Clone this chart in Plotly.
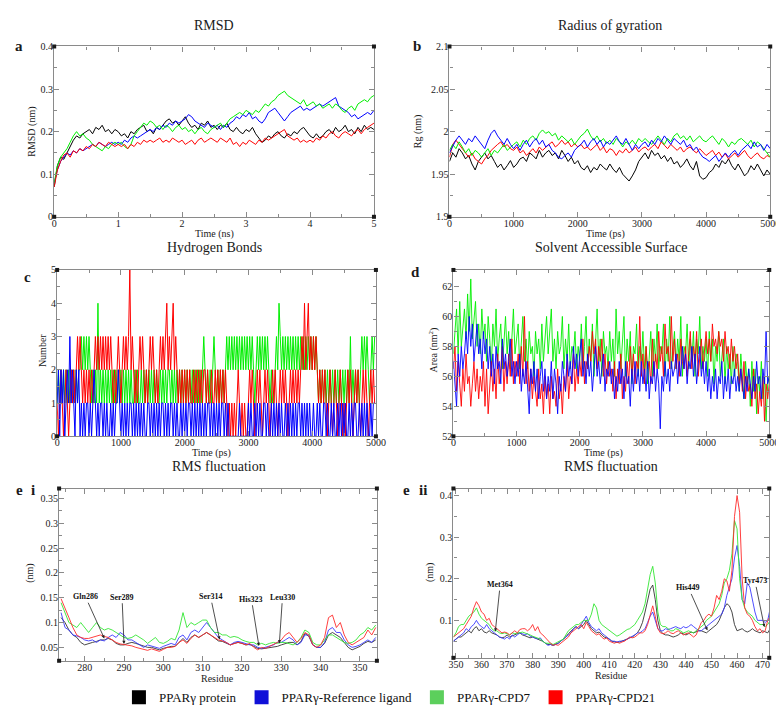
import numpy as np
import plotly.graph_objects as go

W, H = 784, 707

# ---------------- data ----------------
# (a) RMSD (nm), 0-5 ns every 0.05 ns
rmsd_protein = [0.07, 0.12, 0.14, 0.135, 0.15, 0.165, 0.18, 0.19, 0.185, 0.195, 0.2, 0.205, 0.195, 0.21, 0.205, 0.215, 0.2, 0.205, 0.195, 0.205, 0.2,
                0.19, 0.195, 0.185, 0.2, 0.195, 0.205, 0.21, 0.215, 0.2, 0.205,
                0.195, 0.21, 0.205, 0.215, 0.225, 0.23, 0.22, 0.225, 0.215, 0.225,
                0.235, 0.22, 0.21, 0.215, 0.205, 0.22, 0.215, 0.225, 0.21, 0.215,
                0.205, 0.215, 0.21, 0.22, 0.205, 0.2, 0.21, 0.2, 0.195, 0.205,
                0.2, 0.21, 0.195, 0.185, 0.175, 0.18, 0.19, 0.185, 0.195, 0.2,
                0.19, 0.185, 0.195, 0.19, 0.2, 0.195, 0.205, 0.21, 0.2, 0.19,
                0.185, 0.195, 0.185, 0.19, 0.2, 0.205, 0.195, 0.21, 0.2, 0.205,
                0.215, 0.2, 0.205, 0.195, 0.21, 0.2, 0.215, 0.205, 0.21, 0.205]
rmsd_ref = [0.08, 0.11, 0.13, 0.14, 0.15, 0.145, 0.155, 0.15, 0.16, 0.155, 0.16, 0.165, 0.17, 0.165, 0.175, 0.17, 0.165, 0.17, 0.175, 0.17, 0.175,
            0.17, 0.18, 0.175, 0.185, 0.19, 0.185, 0.19, 0.195, 0.2, 0.205,
            0.2, 0.21, 0.205, 0.215, 0.21, 0.22, 0.215, 0.225, 0.22, 0.225,
            0.23, 0.24, 0.235, 0.225, 0.22, 0.215, 0.21, 0.22, 0.215, 0.21,
            0.215, 0.205, 0.215, 0.21, 0.22, 0.225, 0.235, 0.23, 0.24, 0.235,
            0.245, 0.23, 0.235, 0.225, 0.22, 0.23, 0.245, 0.25, 0.255, 0.245,
            0.235, 0.225, 0.235, 0.245, 0.25, 0.255, 0.26, 0.25, 0.255, 0.25,
            0.255, 0.26, 0.265, 0.26, 0.265, 0.27, 0.275, 0.28, 0.26, 0.255,
            0.25, 0.245, 0.235, 0.24, 0.23, 0.235, 0.24, 0.245, 0.24, 0.25]
rmsd_cpd7 = [0.08, 0.12, 0.14, 0.15, 0.16, 0.175, 0.19, 0.2, 0.19, 0.195, 0.185, 0.18, 0.17, 0.165, 0.16, 0.155, 0.165, 0.16, 0.17, 0.175, 0.17,
             0.175, 0.165, 0.16, 0.17, 0.19, 0.2, 0.21, 0.22, 0.215, 0.225,
             0.22, 0.21, 0.215, 0.205, 0.215, 0.21, 0.2, 0.21, 0.215, 0.205,
             0.21, 0.2, 0.205, 0.195, 0.205, 0.21, 0.2, 0.195, 0.205, 0.21,
             0.215, 0.22, 0.21, 0.22, 0.23, 0.235, 0.24, 0.245, 0.24, 0.25,
             0.245, 0.24, 0.25, 0.245, 0.255, 0.265, 0.26, 0.27, 0.275, 0.285,
             0.29, 0.295, 0.285, 0.28, 0.275, 0.27, 0.265, 0.275, 0.26, 0.265,
             0.27, 0.26, 0.265, 0.255, 0.26, 0.265, 0.255, 0.265, 0.26, 0.25,
             0.245, 0.255, 0.26, 0.25, 0.265, 0.27, 0.275, 0.27, 0.28, 0.285]
rmsd_cpd21 = [0.07, 0.11, 0.13, 0.145, 0.15, 0.14, 0.155, 0.15, 0.16, 0.155, 0.165, 0.16, 0.17, 0.165, 0.175, 0.17, 0.165, 0.175, 0.17, 0.165, 0.17,
              0.165, 0.17, 0.16, 0.17, 0.165, 0.175, 0.17, 0.18, 0.175, 0.18,
              0.175, 0.18, 0.185, 0.175, 0.18, 0.175, 0.185, 0.18, 0.175, 0.18,
              0.17, 0.175, 0.18, 0.17, 0.18, 0.185, 0.175, 0.18, 0.185, 0.18,
              0.175, 0.185, 0.18, 0.175, 0.185, 0.17, 0.175, 0.165, 0.175, 0.17,
              0.18, 0.175, 0.17, 0.18, 0.175, 0.185, 0.18, 0.185, 0.19, 0.195,
              0.2, 0.205, 0.19, 0.185, 0.18, 0.185, 0.175, 0.18, 0.175, 0.18,
              0.175, 0.185, 0.18, 0.19, 0.185, 0.195, 0.2, 0.19, 0.185, 0.195,
              0.2, 0.195, 0.19, 0.2, 0.205, 0.195, 0.205, 0.21, 0.215, 0.22]

# (b) Radius of gyration (nm), 0-5000 ps every 50 ps
rg_protein = [1.965, 1.975, 1.97, 1.98, 1.975, 1.968, 1.972, 1.962, 1.955, 1.965, 1.97, 1.975, 1.968, 1.972, 1.965, 1.958, 1.962, 1.955, 1.96, 1.966, 1.958,
              1.962, 1.968, 1.97, 1.965, 1.975, 1.972, 1.968, 1.978, 1.97, 1.975,
              1.978, 1.972, 1.975, 1.968, 1.978, 1.972, 1.965, 1.97, 1.962, 1.966,
              1.958, 1.955, 1.96, 1.952, 1.958, 1.955, 1.962, 1.958, 1.955, 1.962,
              1.956, 1.952, 1.958, 1.95, 1.946, 1.942, 1.948, 1.955, 1.965, 1.97,
              1.975, 1.968, 1.978, 1.972, 1.975, 1.968, 1.972, 1.965, 1.97, 1.962,
              1.965, 1.958, 1.962, 1.968, 1.96, 1.955, 1.965, 1.948, 1.944, 1.946,
              1.952, 1.955, 1.962, 1.958, 1.966, 1.962, 1.968, 1.96, 1.955, 1.962,
              1.955, 1.948, 1.952, 1.96, 1.955, 1.962, 1.955, 1.948, 1.955, 1.95]
rg_ref = [1.975, 1.982, 1.99, 1.995, 1.99, 1.985, 1.992, 1.988, 1.995, 1.99, 1.985, 1.98, 1.99, 1.998, 2.002, 1.995, 1.99, 1.985, 1.992, 1.985, 1.98,
          1.985, 1.978, 1.985, 1.99, 1.982, 1.988, 1.992, 1.985, 1.99, 1.982,
          1.985, 1.978, 1.975, 1.97, 1.968, 1.972, 1.975, 1.97, 1.978, 1.982,
          1.985, 1.99, 1.982, 1.988, 1.992, 1.985, 1.99, 1.982, 1.988, 1.985,
          1.99, 1.995, 1.988, 1.985, 1.992, 1.985, 1.978, 1.985, 1.98, 1.985,
          1.988, 1.982, 1.99, 1.985, 1.992, 1.988, 1.995, 1.99, 1.985, 1.992,
          1.988, 1.985, 1.99, 1.982, 1.985, 1.978, 1.982, 1.975, 1.97, 1.968,
          1.965, 1.968, 1.972, 1.965, 1.97, 1.975, 1.97, 1.975, 1.978, 1.972,
          1.978, 1.982, 1.985, 1.98, 1.988, 1.982, 1.985, 1.978, 1.985, 1.98]
rg_cpd7 = [1.978, 1.985, 1.98, 1.988, 1.982, 1.975, 1.98, 1.972, 1.978, 1.975, 1.97, 1.975, 1.98, 1.972, 1.978, 1.975, 1.98, 1.985, 1.978, 1.982, 1.985,
           1.988, 1.982, 1.99, 1.985, 1.992, 1.995, 1.99, 1.998, 2.002, 1.998,
           2.0, 1.995, 1.998, 1.99, 1.995, 1.992, 1.988, 1.992, 1.985, 1.99,
           1.995, 1.998, 2.003, 1.995, 1.99, 1.995, 1.988, 1.992, 1.986, 1.99,
           1.985, 1.992, 1.988, 1.982, 1.988, 1.985, 1.99, 1.985, 1.992, 1.988,
           1.992, 1.988, 1.985, 1.99, 1.995, 1.99, 1.985, 1.992, 1.988, 1.995,
           1.998, 1.992, 1.995, 1.99, 1.995, 1.988, 1.992, 1.995, 1.99, 1.988,
           1.992, 1.995, 1.99, 1.985, 1.992, 1.988, 1.982, 1.988, 1.985, 1.99,
           1.992, 1.988, 1.985, 1.99, 1.982, 1.988, 1.985, 1.98, 1.975, 1.97]
rg_cpd21 = [1.97, 1.985, 1.99, 1.985, 1.98, 1.975, 1.97, 1.975, 1.968, 1.965, 1.962, 1.968, 1.972, 1.978, 1.982, 1.985, 1.988, 1.982, 1.985, 1.98, 1.978,
            1.982, 1.975, 1.978, 1.972, 1.976, 1.98, 1.975, 1.982, 1.978, 1.982,
            1.985, 1.988, 1.982, 1.985, 1.99, 1.985, 1.988, 1.982, 1.986, 1.982,
            1.985, 1.98, 1.982, 1.978, 1.982, 1.985, 1.978, 1.982, 1.975, 1.98,
            1.978, 1.972, 1.978, 1.975, 1.98, 1.975, 1.978, 1.982, 1.976, 1.98,
            1.982, 1.978, 1.982, 1.985, 1.98, 1.988, 1.984, 1.98, 1.985, 1.982,
            1.978, 1.982, 1.976, 1.98, 1.982, 1.978, 1.975, 1.98, 1.976, 1.972,
            1.975, 1.978, 1.972, 1.976, 1.97, 1.974, 1.968, 1.972, 1.975, 1.97,
            1.974, 1.978, 1.972, 1.968, 1.972, 1.975, 1.97, 1.968, 1.972, 1.97]

# (c) Hydrogen bond counts, one frame every 20 ps (1000 ps per string)
hb_ref = [int(ch) for ch in
          "12021201213121021201010110101210101101010010101121"
          "01010101101010101010011010101010110101011010100101"
          "01011010101010101011010101010110101000000001000000"
          "10100101010011010010101010100101010101011010101010"
          "01001010011010010100101010100101011001010101001011"]
hb_cpd7 = [int(ch) for ch in
           "12121212121212121223232323212121412121212121212121"
           "21212121211212112121212121212112121212212121212121"
           "21212121212121232121212321212121232323232323232323"
           "23232123232323232121123243232323232323232323232323"
           "23232121212121212121212121212131212121232323212323"]
hb_cpd21 = [int(ch) for ch in
            "10121012101212123232121212121232323232323232121232"
            "12323235232121232321212323212123232342323423212121"
            "21212112121212122121121121212121210101010121010100"
            "12121012121012121012121012121210121212121232423423"
            "23232121212101210121012101012121012121012121012121"]

# (d) Solvent accessible surface (nm^2), 0-5000 ps every 25 ps
sas_cpd7 = [57.5, 59.0, 60.5, 57.5, 61.0, 58.0, 59.5, 60.5, 58.5, 61.5, 59.0, 62.5, 58.5, 60.0, 61.0, 58.0, 59.5, 57.5, 60.5, 58.5,
            59.5, 57.0, 60.0, 58.5, 56.5, 59.5, 58.0, 60.5, 57.0, 58.5, 59.5, 56.5, 58.0, 60.0, 57.5, 59.0, 56.5, 58.5, 60.5, 57.5,
            58.5, 59.5, 56.5, 58.0, 60.0, 57.0, 58.5, 56.5, 59.0, 57.5, 58.0, 56.0, 59.0, 57.5, 58.5, 56.5, 59.5, 57.0, 58.5, 60.0,
            57.5, 59.0, 60.5, 57.0, 58.5, 56.5, 59.0, 57.5, 58.0, 60.0, 56.5, 58.5, 57.0, 59.5, 56.5, 58.0, 57.5, 59.0, 56.5, 58.0,
            57.0, 59.5, 56.5, 58.0, 60.0, 56.5, 58.5, 57.0, 59.5, 56.0, 58.0, 60.5, 57.0, 58.5, 56.0, 59.0, 57.5, 58.0, 56.5, 59.0,
            57.0, 58.5, 56.0, 60.5, 57.5, 59.0, 56.5, 58.0, 60.0, 56.0, 58.5, 57.0, 59.0, 55.5, 58.0, 57.5, 59.5, 56.0, 58.0, 57.0,
            59.0, 56.5, 58.0, 55.5, 57.5, 59.0, 56.0, 58.5, 57.0, 59.5, 56.5, 58.0, 57.5, 59.5, 56.0, 58.5, 57.0, 60.0, 56.5, 58.0,
            59.0, 56.5, 58.5, 57.0, 60.0, 56.0, 58.0, 57.5, 59.5, 56.5, 58.5, 57.0, 59.0, 56.0, 58.5, 57.5, 60.0, 56.5, 58.0, 57.0,
            58.5, 56.0, 59.0, 57.0, 58.5, 55.5, 58.0, 57.0, 59.0, 56.0, 57.5, 58.5, 55.5, 58.0, 56.5, 57.5, 55.5, 58.0, 56.0, 57.5,
            57.0, 55.0, 57.5, 56.0, 54.5, 57.0, 55.5, 56.5, 54.0, 57.0, 55.0, 56.5, 53.5, 56.0, 55.0, 57.0, 54.5, 56.0, 53.0, 55.5,
            56.0]
sas_cpd21 = [56.5, 58.0, 55.0, 57.0, 55.5, 54.0, 56.5, 55.0, 57.5, 55.5, 56.0, 54.0, 55.5, 57.0, 55.0, 56.5, 54.5, 56.0, 55.0, 57.0,
             54.0, 56.5, 53.5, 55.5, 57.0, 55.0, 56.5, 54.5, 57.5, 55.5, 56.5, 58.0, 55.0, 57.0, 55.5, 57.5, 56.0, 58.5, 55.5, 57.0,
             56.0, 57.5, 55.5, 58.0, 56.0, 60.0, 55.5, 57.0, 55.0, 56.5, 54.5, 56.0, 55.0, 54.0, 56.5, 54.5, 55.5, 53.5, 56.0, 54.5,
             55.5, 53.5, 56.0, 54.5, 55.0, 54.0, 56.5, 54.5, 55.5, 53.5, 56.0, 55.0, 57.0, 54.5, 56.0, 55.5, 57.5, 55.0, 56.5, 55.5,
             57.0, 56.0, 58.5, 55.5, 57.0, 56.5, 58.0, 57.0, 59.0, 57.5, 58.5, 56.5, 58.0, 57.0, 58.5, 56.0, 57.5, 55.5, 57.0, 56.0,
             56.5, 55.0, 57.0, 54.5, 56.5, 55.5, 57.5, 54.5, 56.0, 55.0, 57.0, 55.5, 58.0, 56.0, 57.5, 55.5, 57.0, 56.5, 60.0, 56.0,
             57.5, 55.5, 58.0, 56.5, 57.0, 55.5, 58.5, 56.0, 57.5, 56.5, 59.0, 57.0, 58.0, 56.0, 59.5, 57.5, 58.0, 56.5, 60.0, 57.0,
             58.5, 56.5, 57.5, 56.0, 58.5, 57.0, 56.5, 58.0, 56.0, 57.5, 59.0, 56.5, 58.0, 57.0, 59.0, 56.0, 57.5, 58.5, 56.5, 58.0,
             59.0, 57.5, 58.5, 57.0, 59.5, 58.0, 58.5, 57.5, 59.0, 58.0, 58.5, 57.0, 59.0, 57.5, 58.0, 56.5, 58.5, 57.0, 58.0, 56.5,
             57.5, 55.5, 56.5, 55.0, 57.0, 54.5, 56.0, 55.0, 55.5, 54.0, 56.5, 54.5, 55.5, 53.5, 55.0, 54.0, 56.0, 53.0, 55.5, 54.5,
             55.5]
sas_ref = [57.0, 55.5, 54.0, 57.5, 56.0, 58.0, 56.5, 57.5, 59.0, 57.5, 60.0, 58.0, 59.5, 57.0, 58.5, 59.5, 57.5, 58.5, 56.5, 59.0,
           57.5, 58.5, 56.5, 58.0, 56.0, 57.5, 55.5, 58.0, 56.5, 57.0, 55.5, 58.5, 56.5, 57.5, 56.0, 57.0, 58.5, 56.0, 57.0, 55.5,
           57.0, 56.0, 57.5, 55.0, 56.5, 55.5, 57.0, 55.0, 53.5, 56.5, 55.5, 57.0, 55.0, 56.5, 54.5, 56.0, 57.0, 55.0, 56.5, 54.5,
           56.0, 55.0, 57.0, 54.5, 56.5, 55.5, 53.5, 56.0, 55.0, 57.0, 56.0, 55.0, 57.5, 56.0, 57.0, 55.5, 58.0, 56.5, 57.5, 56.0,
           57.5, 58.5, 56.0, 57.0, 55.5, 57.5, 56.0, 57.0, 55.0, 56.5, 58.0, 56.0, 57.0, 55.5, 56.5, 57.5, 55.0, 56.5, 56.0, 57.0,
           55.5, 56.5, 54.5, 56.0, 55.0, 57.0, 55.5, 56.5, 54.5, 57.0, 55.5, 56.0, 54.0, 56.5, 55.0, 57.0, 55.5, 56.5, 55.0, 57.0,
           55.5, 56.5, 55.0, 57.0, 54.5, 56.0, 55.5, 57.0, 55.0, 56.5, 55.5, 52.5, 56.0, 55.0, 57.0, 55.5, 56.5, 55.0, 57.0, 56.0,
           56.5, 57.5, 55.5, 57.0, 56.0, 58.0, 56.5, 57.5, 55.5, 57.0, 56.5, 58.0, 56.0, 57.5, 55.5, 57.0, 58.0, 56.0, 57.0, 55.5,
           57.0, 55.0, 56.5, 54.5, 56.0, 55.0, 56.5, 54.5, 56.0, 55.5, 57.0, 54.5, 56.0, 55.0, 56.5, 54.5, 56.0, 55.5, 56.5, 55.0,
           56.0, 55.0, 56.5, 55.5, 54.5, 56.0, 55.0, 56.5, 55.5, 54.5, 56.0, 55.0, 57.0, 55.5, 56.0, 54.5, 56.5, 55.5, 59.0, 55.5,
           56.0]

# (e i) RMSF (nm), residues 274-354
res_e1 = list(range(274, 355))
rmsf1_protein = [0.11, 0.1, 0.085, 0.075, 0.07, 0.06, 0.055, 0.058, 0.06, 0.062, 0.065, 0.065, 0.068, 0.065, 0.058, 0.055, 0.055,
                 0.058, 0.06, 0.058, 0.055, 0.052, 0.05, 0.05, 0.048, 0.045, 0.048, 0.05, 0.052, 0.052, 0.06, 0.068,
                 0.06, 0.07, 0.075, 0.07, 0.075, 0.08, 0.075, 0.068, 0.063, 0.062, 0.058, 0.055, 0.058, 0.06, 0.058,
                 0.055, 0.056, 0.052, 0.048, 0.047, 0.048, 0.05, 0.05, 0.052, 0.055, 0.058, 0.06, 0.06, 0.055, 0.062,
                 0.078, 0.072, 0.055, 0.05, 0.05, 0.058, 0.075, 0.08, 0.075, 0.07, 0.06, 0.05, 0.045, 0.048, 0.052,
                 0.058, 0.062, 0.06, 0.065]
rmsf1_ref = [0.12, 0.09, 0.085, 0.075, 0.073, 0.07, 0.065, 0.063, 0.065, 0.06, 0.065, 0.063, 0.07, 0.075, 0.07, 0.08, 0.075,
             0.065, 0.065, 0.06, 0.055, 0.05, 0.055, 0.053, 0.05, 0.048, 0.052, 0.055, 0.058, 0.055, 0.07, 0.075,
             0.065, 0.08, 0.085, 0.08, 0.09, 0.1, 0.09, 0.08, 0.07, 0.065, 0.06, 0.055, 0.06, 0.062, 0.06,
             0.058, 0.055, 0.055, 0.05, 0.048, 0.05, 0.052, 0.055, 0.06, 0.06, 0.065, 0.07, 0.065, 0.055, 0.06,
             0.075, 0.075, 0.055, 0.05, 0.05, 0.06, 0.085, 0.09, 0.08, 0.08, 0.065, 0.055, 0.05, 0.052, 0.055,
             0.06, 0.065, 0.06, 0.07]
rmsf1_cpd7 = [0.14, 0.12, 0.1, 0.095, 0.09, 0.1, 0.09, 0.08, 0.09, 0.1, 0.09, 0.085, 0.088, 0.085, 0.08, 0.075, 0.07,
              0.068, 0.07, 0.075, 0.07, 0.065, 0.058, 0.065, 0.07, 0.06, 0.058, 0.062, 0.068, 0.065, 0.085, 0.12,
              0.09, 0.1, 0.095, 0.1, 0.105, 0.105, 0.09, 0.08, 0.08, 0.075, 0.075, 0.07, 0.072, 0.07, 0.065,
              0.062, 0.06, 0.06, 0.055, 0.058, 0.055, 0.058, 0.06, 0.058, 0.06, 0.06, 0.058, 0.055, 0.06, 0.07,
              0.085, 0.08, 0.06, 0.055, 0.055, 0.065, 0.075, 0.075, 0.07, 0.065, 0.06, 0.058, 0.06, 0.065, 0.075,
              0.08, 0.09, 0.085, 0.095]
rmsf1_cpd21 = [0.148, 0.13, 0.11, 0.09, 0.075, 0.07, 0.068, 0.068, 0.07, 0.073, 0.075, 0.072, 0.07, 0.065, 0.06, 0.057, 0.056,
               0.055, 0.053, 0.05, 0.048, 0.047, 0.044, 0.047, 0.045, 0.042, 0.046, 0.05, 0.05, 0.052, 0.06, 0.065,
               0.058, 0.068, 0.075, 0.07, 0.075, 0.08, 0.075, 0.07, 0.065, 0.063, 0.06, 0.055, 0.058, 0.06, 0.058,
               0.055, 0.058, 0.05, 0.045, 0.05, 0.048, 0.052, 0.055, 0.06, 0.065, 0.075, 0.08, 0.07, 0.06, 0.068,
               0.08, 0.075, 0.055, 0.05, 0.055, 0.07, 0.11, 0.115, 0.09, 0.1, 0.075, 0.06, 0.055, 0.06, 0.065,
               0.07, 0.085, 0.075, 0.09]

# (e ii) RMSF (nm), residues 349-473
res_e2 = list(range(349, 474))
rmsf2_protein = [0.05, 0.055, 0.06, 0.06, 0.065, 0.07, 0.075, 0.07, 0.08, 0.085, 0.075, 0.08, 0.072, 0.07, 0.075, 0.07, 0.068,
                 0.065, 0.06, 0.058, 0.06, 0.065, 0.06, 0.063, 0.065, 0.068, 0.07, 0.065, 0.063, 0.06, 0.058, 0.06,
                 0.058, 0.055, 0.052, 0.05, 0.045, 0.042, 0.042, 0.04, 0.043, 0.045, 0.05, 0.055, 0.06, 0.068, 0.075,
                 0.08, 0.085, 0.08, 0.085, 0.09, 0.1, 0.09, 0.08, 0.075, 0.07, 0.072, 0.065, 0.06, 0.058, 0.055,
                 0.05, 0.048, 0.047, 0.048, 0.05, 0.052, 0.055, 0.058, 0.06, 0.065, 0.07, 0.08, 0.095, 0.12, 0.15,
                 0.175, 0.185, 0.15, 0.1, 0.075, 0.068, 0.065, 0.065, 0.062, 0.06, 0.062, 0.065, 0.07, 0.068, 0.065,
                 0.068, 0.072, 0.07, 0.072, 0.075, 0.075, 0.072, 0.07, 0.075, 0.08, 0.085, 0.09, 0.1, 0.115, 0.13,
                 0.14, 0.135, 0.12, 0.09, 0.075, 0.078, 0.08, 0.075, 0.072, 0.075, 0.08, 0.075, 0.072, 0.07, 0.075,
                 0.072, 0.07, 0.08]
rmsf2_ref = [0.05, 0.055, 0.06, 0.065, 0.07, 0.08, 0.075, 0.085, 0.09, 0.1, 0.09, 0.085, 0.08, 0.09, 0.08, 0.075, 0.07,
             0.065, 0.06, 0.058, 0.055, 0.06, 0.055, 0.065, 0.06, 0.065, 0.07, 0.068, 0.065, 0.068, 0.062, 0.06,
             0.058, 0.055, 0.058, 0.05, 0.045, 0.04, 0.042, 0.04, 0.042, 0.045, 0.05, 0.055, 0.06, 0.065, 0.07,
             0.08, 0.085, 0.08, 0.09, 0.1, 0.11, 0.095, 0.085, 0.08, 0.075, 0.08, 0.07, 0.065, 0.06, 0.055,
             0.05, 0.05, 0.048, 0.05, 0.05, 0.052, 0.055, 0.06, 0.062, 0.065, 0.07, 0.07, 0.075, 0.08, 0.095,
             0.11, 0.12, 0.1, 0.08, 0.075, 0.075, 0.08, 0.078, 0.08, 0.082, 0.085, 0.082, 0.08, 0.085, 0.082,
             0.085, 0.09, 0.085, 0.08, 0.075, 0.075, 0.08, 0.085, 0.09, 0.095, 0.1, 0.105, 0.11, 0.115, 0.13,
             0.16, 0.18, 0.2, 0.25, 0.28, 0.23, 0.15, 0.14, 0.19, 0.18, 0.15, 0.12, 0.1, 0.1, 0.1,
             0.095, 0.1, 0.13]
rmsf2_cpd7 = [0.06, 0.07, 0.085, 0.09, 0.09, 0.1, 0.11, 0.115, 0.12, 0.13, 0.115, 0.105, 0.1, 0.095, 0.09, 0.08, 0.075,
              0.075, 0.07, 0.068, 0.07, 0.068, 0.065, 0.07, 0.068, 0.07, 0.07, 0.072, 0.07, 0.068, 0.065, 0.062,
              0.06, 0.058, 0.055, 0.05, 0.045, 0.045, 0.045, 0.042, 0.045, 0.048, 0.05, 0.055, 0.065, 0.075, 0.08,
              0.085, 0.09, 0.09, 0.095, 0.1, 0.1, 0.1, 0.115, 0.14, 0.13, 0.1, 0.09, 0.085, 0.08, 0.075,
              0.07, 0.065, 0.062, 0.065, 0.07, 0.075, 0.078, 0.08, 0.085, 0.09, 0.1, 0.11, 0.12, 0.14, 0.175,
              0.21, 0.23, 0.19, 0.12, 0.09, 0.085, 0.085, 0.08, 0.075, 0.075, 0.08, 0.078, 0.075, 0.07, 0.072,
              0.075, 0.072, 0.07, 0.075, 0.08, 0.085, 0.09, 0.1, 0.105, 0.11, 0.12, 0.13, 0.14, 0.16, 0.19,
              0.2, 0.22, 0.26, 0.34, 0.32, 0.2, 0.15, 0.13, 0.12, 0.115, 0.11, 0.1, 0.095, 0.09, 0.09,
              0.085, 0.09, 0.1]
rmsf2_cpd21 = [0.06, 0.065, 0.07, 0.075, 0.08, 0.09, 0.1, 0.11, 0.13, 0.145, 0.135, 0.12, 0.115, 0.1, 0.105, 0.09, 0.085,
               0.08, 0.075, 0.07, 0.072, 0.07, 0.065, 0.07, 0.075, 0.07, 0.078, 0.08, 0.08, 0.075, 0.08, 0.09,
               0.075, 0.085, 0.07, 0.065, 0.058, 0.05, 0.045, 0.04, 0.042, 0.04, 0.045, 0.048, 0.055, 0.06, 0.07,
               0.075, 0.08, 0.085, 0.09, 0.08, 0.095, 0.085, 0.075, 0.07, 0.065, 0.068, 0.06, 0.055, 0.058, 0.05,
               0.048, 0.045, 0.048, 0.045, 0.048, 0.05, 0.055, 0.06, 0.058, 0.06, 0.065, 0.07, 0.07, 0.075, 0.09,
               0.115, 0.135, 0.11, 0.08, 0.07, 0.068, 0.07, 0.075, 0.07, 0.068, 0.072, 0.075, 0.07, 0.065, 0.068,
               0.07, 0.065, 0.06, 0.065, 0.08, 0.095, 0.1, 0.11, 0.115, 0.11, 0.13, 0.16, 0.15, 0.17, 0.2,
               0.195, 0.17, 0.22, 0.35, 0.4, 0.36, 0.2, 0.13, 0.115, 0.11, 0.1, 0.085, 0.075, 0.08, 0.07,
               0.075, 0.1, 0.11]

# residue call-outs: (label, residue, value at arrow head, label x, label y)
callouts_e1 = [("Gln286", 285, 0.068, 280.2, 0.152), ("Ser289", 290, 0.057, 289.5, 0.151),
               ("Ser314", 314.3, 0.066, 312, 0.152), ("His323", 324.3, 0.053, 322.4, 0.147),
               ("Leu330", 329.5, 0.058, 330.3, 0.151)]
callouts_e2 = [("Met364", 365.4, 0.073, 367.3, 0.186), ("His449", 448.4, 0.076, 441, 0.178),
               ("Tyr473", 470.7, 0.084, 467, 0.195)]

series_names = ["PPARγ protein", "PPARγ-Reference ligand", "PPARγ-CPD7", "PPARγ-CPD21"]
BLACK, BLUE, GREEN, RED = "#000000", "#0000ff", "#00ee00", "#ff0000"
swatch_colors = ["#000000", "#1010d8", "#5ccf5c", "#ff0000"]

# tick labels
a_xt = [0, 1, 2, 3, 4, 5]
a_yt = [0, 0.1, 0.2, 0.3, 0.4]
t_xt = [0, 1000, 2000, 3000, 4000, 5000]
b_yt = [1.9, 1.95, 2, 2.05, 2.1]
c_yt = [0, 1, 2, 3, 4, 5]
d_yt = [52, 54, 56, 58, 60, 62]
e1_xt = [280, 290, 300, 310, 320, 330, 340, 350]
e1_yt = [0.05, 0.1, 0.15, 0.2, 0.25, 0.3, 0.35]
e2_xt = [350, 360, 370, 380, 390, 400, 410, 420, 430, 440, 450, 460, 470]
e2_yt = [0.1, 0.2, 0.3, 0.4]

SERIF = "Liberation Serif"
FRAME = "#8a8a8a"

fig = go.Figure()


def tgrid(vals, end):
    return np.linspace(0, end, len(vals))


def line(x, y, c, ax, w=1.0):
    fig.add_trace(go.Scatter(x=x, y=y, mode="lines", line=dict(color=c, width=w),
                             xaxis="x" + ax, yaxis="y" + ax, showlegend=False, hoverinfo="skip"))


# (a)
for v, c in [(rmsd_protein, BLACK), (rmsd_ref, BLUE), (rmsd_cpd7, GREEN), (rmsd_cpd21, RED)]:
    line(tgrid(v, 5), v, c, "")
# (b)
for v, c in [(rg_protein, BLACK), (rg_cpd21, RED), (rg_cpd7, GREEN), (rg_ref, BLUE)]:
    line(tgrid(v, 5000), v, c, "2")
# (c) integer counts drawn as plain lines; fast switching fills the bands
for v, c in [(hb_cpd7, GREEN), (hb_cpd21, RED), (hb_ref, BLUE)]:
    line(20 * np.arange(len(v)), v, c, "3", 1.0)
# (d)
for v, c in [(sas_cpd7, GREEN), (sas_cpd21, RED), (sas_ref, BLUE)]:
    line(tgrid(v, 5000), v, c, "4", 0.9)
# (e i), (e ii)
e_cols = ["#333333", "#3a3aff", "#33e633", "#ff2a2a"]
for v, c in zip([rmsf1_protein, rmsf1_ref, rmsf1_cpd7, rmsf1_cpd21], e_cols):
    line(res_e1, v, c, "5", 0.9)
for v, c in zip([rmsf2_protein, rmsf2_ref, rmsf2_cpd7, rmsf2_cpd21], e_cols):
    line(res_e2, v, c, "6", 0.9)

# legend entries
for n, c in zip(series_names, swatch_colors):
    fig.add_trace(go.Scatter(x=[None], y=[None], mode="markers", name=n,
                             marker=dict(symbol="square", size=14, color=c),
                             xaxis="x5", yaxis="y5"))


def fx(p):
    return p / W


def fy(p):
    return 1 - p / H


def axis(dom, rng, tv, minor, anchor, horizontal):
    return dict(domain=[fx(dom[0]), fx(dom[1])] if horizontal else [fy(dom[1]), fy(dom[0])],
                range=rng, anchor=anchor, tickmode="array", tickvals=tv, ticktext=[("%g" % v) for v in tv],
                showline=True, linecolor=FRAME, linewidth=1.2, mirror="allticks",
                ticks="inside", ticklen=5, tickwidth=1, tickcolor=FRAME,
                ticklabelstandoff=-3 if horizontal else -2,
                showgrid=False, zeroline=False,
                tickfont=dict(family=SERIF, size=10, color="#222"),
                minor=dict(ticks="inside", ticklen=3, tickwidth=1, tickcolor=FRAME, dtick=minor, showgrid=False))


panels = [
    # name, x pixels, y pixels, xrange, yrange, xticks, yticks, xminor, yminor
    ("", (42, 368), (33, 206), [0, 5], [0, 0.4], a_xt, a_yt, 0.5, 0.05),
    ("2", (445, 772), (33, 206), [0, 5000], [1.9, 2.1], t_xt, b_yt, 500, 0.025),
    ("3", (45, 370), (260, 429), [0, 5000], [0, 5], t_xt, c_yt, 500, 0.5),
    ("4", (449, 771), (260, 429), [0, 5000], [52, 63.1], t_xt, d_yt, 500, 1),
    ("5", (47, 371), (482, 657), [273.5, 354.3], [0.023, 0.37], e1_xt, e1_yt, 5, 0.025),
    ("6", (449, 771), (482, 654), [349, 472.6], [0.01, 0.417], e2_xt, e2_yt, 5, 0.05),
]

layout_axes = {}
for k, xd, yd, xr, yr, xt, yt, xm, ym in panels:
    layout_axes["xaxis" + k] = axis(xd, xr, xt, xm, "y" + k, True)
    layout_axes["yaxis" + k] = axis(yd, yr, yt, ym, "x" + k, False)
    # small corner blocks of the frame
    for cx in (0, 1):
        for cy in (0, 1):
            fig.add_shape(type="rect", xref="x%s domain" % k, yref="y%s domain" % k,
                          xsizemode="pixel", ysizemode="pixel", xanchor=cx, yanchor=cy,
                          x0=-2, x1=2, y0=-2, y1=2, fillcolor="#1a1a1a", line_width=0)

ann = []


def label(text, x, y, size=10, angle=0, bold=False):
    ann.append(dict(text="<b>%s</b>" % text if bold else text, x=fx(x), y=fy(y), xref="paper", yref="paper",
                    showarrow=False, textangle=angle, xanchor="center", yanchor="middle",
                    font=dict(family=SERIF, size=size, color="#1a1a1a")))


# panel titles
label("RMSD", 205, 12, 14)
label("Radius of gyration", 609, 12, 14)
label("Hydrogen Bonds", 205, 237, 14)
label("Solvent Accessible Surface", 610, 237, 14)
label("RMS fluctuation", 210, 460, 14)
label("RMS fluctuation", 610, 460, 14)
# panel letters
label("a", 6, 32, 15, bold=True)
label("b", 412, 33, 15, bold=True)
label("c", 15, 267, 15, bold=True)
label("d", 410, 262, 15, bold=True)
label("e", 7, 484, 15, bold=True)
label("i", 20, 484, 15, bold=True)
label("e", 401, 484, 15, bold=True)
label("ii", 418, 484, 15, bold=True)
# axis titles
label("RMSD (nm)", 20, 120, 10, -90)
label("Rg (nm)", 413, 119, 10, -90)
label("Number", 30, 342, 10, -90)
label("Area (nm<sup>2</sup>)", 429, 341, 10, -90)
label("(nm)", 18, 568, 10, -90)
label("(nm)", 425, 567, 10, -90)
label("Time (ns)", 205, 223, 10)
label("Time (ps)", 604, 223, 10)
label("Time (ps)", 202, 446, 10)
label("Time (ps)", 602, 446, 10)
label("Residue", 208, 675, 10)
label("Residue", 610, 672, 10)

for callouts, k in [(callouts_e1, "5"), (callouts_e2, "6")]:
    for name, hx, hy, tx, ty in callouts:
        ann.append(dict(text="<b>%s</b>" % name, x=hx, y=hy, ax=tx, ay=ty,
                        xref="x" + k, yref="y" + k, axref="x" + k, ayref="y" + k,
                        showarrow=True, arrowhead=2, arrowsize=0.8, arrowwidth=0.8, arrowcolor="#222",
                        font=dict(family=SERIF, size=8, color="#111")))

fig.update_layout(
    width=W, height=H, margin=dict(l=0, r=0, t=0, b=0),
    paper_bgcolor="white", plot_bgcolor="white",
    font=dict(family=SERIF, color="#1a1a1a"),
    annotations=ann,
    legend=dict(orientation="h", x=fx(108), xanchor="left", y=fy(694), yanchor="middle",
                font=dict(family=SERIF, size=13, color="#111"), itemsizing="trace",
                bgcolor="rgba(0,0,0,0)", tracegroupgap=0),
    **layout_axes,
)

fig.write_html("out.html")
